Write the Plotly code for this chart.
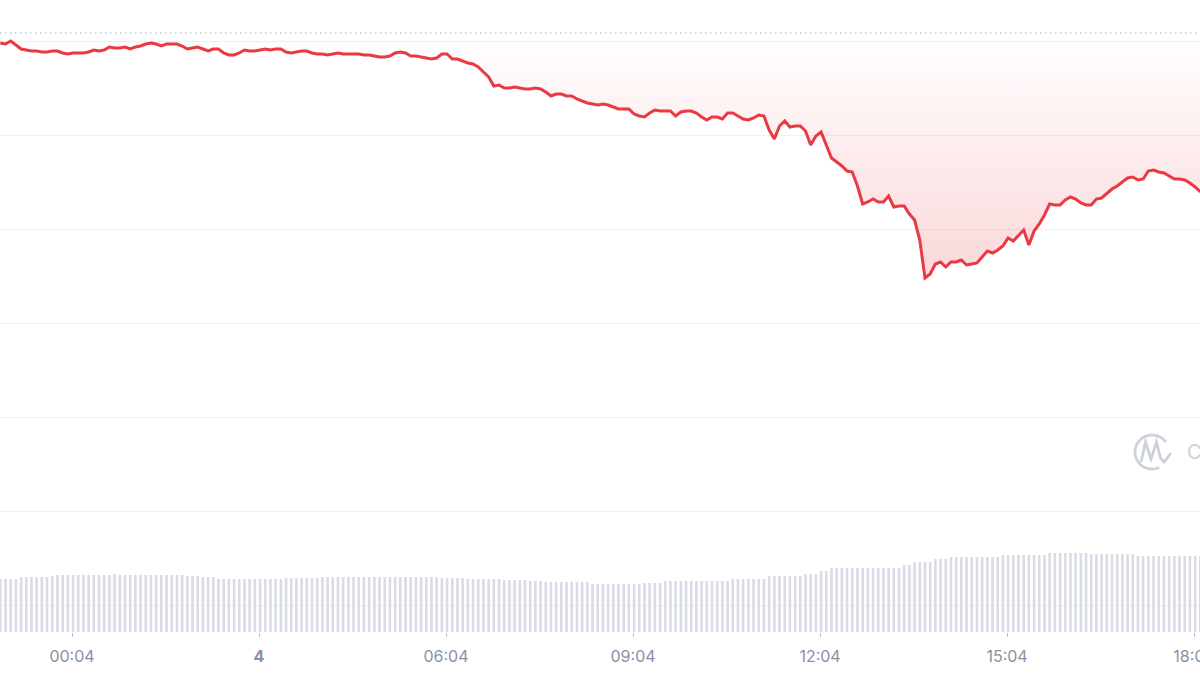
import math
import pandas as pd
import plotly.graph_objects as go

# 5-minute samples, from 22:55 the day before to 18:10
times = pd.date_range("2024-05-03 22:55", periods=232, freq="5min")

price = [
    0.998, 0.997, 1.000, 0.996, 0.992, 0.991, 0.990, 0.990, 0.989, 0.989,
    0.990, 0.990, 0.988, 0.987, 0.988, 0.988, 0.988, 0.989, 0.991, 0.990,
    0.991, 0.994, 0.993, 0.993, 0.994, 0.992, 0.994, 0.995, 0.997, 0.998,
    0.997, 0.995, 0.997, 0.997, 0.997, 0.995, 0.992, 0.993, 0.994, 0.992,
    0.990, 0.992, 0.992, 0.988, 0.986, 0.986, 0.988, 0.991, 0.990, 0.990,
    0.991, 0.992, 0.991, 0.992, 0.992, 0.989, 0.988, 0.989, 0.990, 0.990,
    0.988, 0.987, 0.987, 0.986, 0.987, 0.988, 0.987, 0.987, 0.987, 0.987,
    0.986, 0.986, 0.985, 0.984, 0.984, 0.985, 0.988, 0.989, 0.988, 0.985,
    0.985, 0.984, 0.983, 0.982, 0.983, 0.987, 0.987, 0.982, 0.982, 0.980,
    0.978, 0.977, 0.974, 0.969, 0.964, 0.955, 0.956, 0.953, 0.953, 0.954,
    0.953, 0.952, 0.952, 0.953, 0.952, 0.949, 0.945, 0.947, 0.947, 0.945,
    0.945, 0.942, 0.940, 0.938, 0.937, 0.936, 0.937, 0.936, 0.934, 0.932,
    0.932, 0.932, 0.927, 0.925, 0.924, 0.928, 0.931, 0.930, 0.930, 0.930,
    0.925, 0.929, 0.930, 0.930, 0.928, 0.924, 0.921, 0.924, 0.924, 0.922,
    0.928, 0.928, 0.925, 0.922, 0.921, 0.923, 0.926, 0.925, 0.911, 0.902,
    0.915, 0.920, 0.914, 0.915, 0.915, 0.910, 0.896, 0.905, 0.909, 0.896,
    0.883, 0.879, 0.875, 0.870, 0.869, 0.855, 0.837, 0.839, 0.842, 0.839,
    0.839, 0.845, 0.834, 0.835, 0.835, 0.827, 0.821, 0.801, 0.763, 0.767,
    0.777, 0.779, 0.774, 0.779, 0.779, 0.781, 0.776, 0.777, 0.778, 0.784,
    0.790, 0.788, 0.791, 0.795, 0.803, 0.800, 0.806, 0.811, 0.796, 0.810,
    0.817, 0.826, 0.837, 0.836, 0.836, 0.841, 0.844, 0.842, 0.838, 0.836,
    0.836, 0.842, 0.843, 0.848, 0.852, 0.855, 0.859, 0.863, 0.864, 0.861,
    0.862, 0.870, 0.871, 0.869, 0.868, 0.865, 0.862, 0.862, 0.861, 0.858,
    0.854, 0.849,
]

# rolling volume, millions
volume = (
    [26.5] * 4 + [27.5] * 6
    + [28.0, 28.5, 28.5, 28.5, 28.5, 28.5, 28.5, 28.5, 28.5, 28.5,
       28.5, 28.5, 29.0, 28.5, 28.5, 28.5, 28.5, 28.5, 28.5, 28.5,
       28.5, 28.5, 28.5, 28.5, 28.5, 28.5, 28.0, 28.0, 28.0]
    + [27.5] * 3 + [26.5] * 13 + [27.0] * 7 + [27.5] * 15 + [27.5] * 8
    + [27.0, 27.0, 27.0, 27.0, 27.0, 26.5, 26.5, 26.5, 26.5, 26.5,
       26.5, 26.5, 26.0, 26.0, 26.0, 26.0, 26.0, 25.5, 25.5, 25.5]
    + [25.0] * 9 + [24.0] * 10 + [24.5] * 4 + [25.5] * 13 + [26.5] * 7
    + [28.0] * 7 + [29.0] * 3 + [30.5] * 2 + [32.0] * 14 + [33.5] * 2
    + [35.0] * 4 + [36.5] * 3 + [37.5] * 10 + [38.5] * 9 + [39.5] * 8
    + [39.0] * 9 + [38.0] * 13
)

open_price = 1.008
grid_levels = [1.000, 0.906, 0.812, 0.718, 0.624, 0.530, 0.436]

tick_times = ["2024-05-04 00:04", "2024-05-04 03:04", "2024-05-04 06:04",
              "2024-05-04 09:04", "2024-05-04 12:04", "2024-05-04 15:04",
              "2024-05-04 18:04"]
tick_labels = ["00:04", "<b>4</b>", "06:04", "09:04", "12:04", "15:04", "18:04"]

RED = "#ea3943"
W, H_PLOT = 1200, 632

fig = go.Figure()

fig.add_trace(go.Bar(x=times, y=volume, yaxis="y2", marker_color="#d9dce7",
                     marker_line_width=0, hoverinfo="skip"))

# dotted open-price reference line, also the edge of the fill
fig.add_trace(go.Scatter(x=[times[0], times[-1]], y=[open_price, open_price],
                         mode="lines", line=dict(color="#a7aec0", width=1.3, dash="1px,4px"),
                         hoverinfo="skip"))

fig.add_trace(go.Scatter(x=times, y=price, mode="lines",
                         line=dict(color=RED, width=3),
                         fill="tonexty",
                         fillgradient=dict(type="vertical",
                                           colorscale=[[0, "rgba(234,57,67,0.20)"],
                                                       [1, "rgba(234,57,67,0.0)"]])))


def to_paper(px, py):
    return px / W, 1 - py / H_PLOT


# watermark logo: open circle plus an M
cx, cy, r = 1152, 452, 17
pts = []
for k in range(0, 61):
    a = math.radians(-35 - k * (260 / 60))
    pts.append(to_paper(cx + r * math.cos(a), cy + r * math.sin(a)))
m_pts = [(1141, 462), (1145.5, 442), (1151, 459), (1156.5, 442), (1160.5, 458),
         (1164, 462), (1171, 453)]
arc_path = "M " + " L ".join(f"{x:.5f},{y:.5f}" for x, y in pts)
m_path = "M " + " L ".join(f"{x:.5f},{y:.5f}" for x, y in (to_paper(a, b) for a, b in m_pts))
for p in (arc_path, m_path):
    fig.add_shape(type="path", path=p, xref="paper", yref="paper",
                  line=dict(color="#cdd1dc", width=2.8), layer="above")

fig.add_annotation(x=1185 / W, y=1 - 452 / H_PLOT, xref="paper", yref="paper",
                   text="CoinMarketCap", showarrow=False, xanchor="left", yanchor="middle",
                   font=dict(family="Inter", size=20, color="#cdd1dc"))

fig.update_layout(
    width=1200, height=675,
    margin=dict(l=0, r=0, t=0, b=43),
    paper_bgcolor="white", plot_bgcolor="white",
    showlegend=False, bargap=0.5,
    font=dict(family="Inter, Roboto, sans-serif"),
    xaxis=dict(type="date", range=["2024-05-03 22:54:42", "2024-05-04 18:09:42"],
               showgrid=False, zeroline=False, showline=False, automargin=False,
               tickvals=tick_times, ticktext=tick_labels,
               ticks="outside", ticklen=4, tickwidth=1, tickcolor="#b8bdca",
               ticklabelstandoff=6, ticklabeloverflow="allow",
               tickfont=dict(size=16, color="#8a90a3")),
    yaxis=dict(range=[0.409, 1.041], tickvals=grid_levels, showticklabels=False,
               gridcolor="#eef0f4", gridwidth=1, zeroline=False, automargin=False),
    yaxis2=dict(range=[0, 316], overlaying="y", visible=False),
)

# drop the page's default body margin and scrollbars so the figure sits at the window's corner
fig.write_html("out.html", config={"displayModeBar": False, "responsive": False},
               post_script="document.body.style.margin='0';"
                           "document.body.style.overflow='hidden';")
